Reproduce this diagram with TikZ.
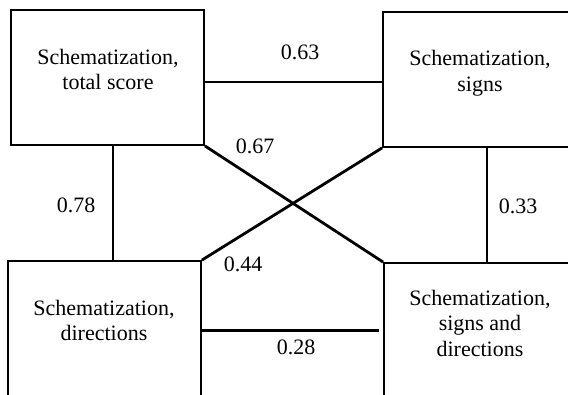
\documentclass[tikz,border=0pt]{standalone}
\usepackage{fontspec}
\setmainfont{Liberation Serif}
\newfontfamily\timesfont{Liberation Serif}
\newcommand{\lblfont}{\timesfont\fontsize{22}{25.5}\selectfont}
\tikzset{
  box/.style={draw=black,line width=1.8pt,rectangle,inner sep=0pt},
  conn/.style={line width=2.8pt,line cap=butt},
  txt/.style={align=center,font=\lblfont,inner sep=0pt},
  num/.style={font=\lblfont,inner sep=0pt}}
\begin{document}
\begin{tikzpicture}[x=1pt,y=-1pt]
\clip (0,0) rectangle (568,395);
\fill[white] (0,0) rectangle (568,395);
% boxes
\node[box,minimum width=193pt,minimum height=135pt] (tl) at (107.5,77.5) {};
\node[box,minimum width=194pt,minimum height=135pt] (tr) at (480,79.5) {};
\node[box,minimum width=193pt,minimum height=139pt] (bl) at (104.5,330.5) {};
\node[box,minimum width=194pt,minimum height=140pt] (br) at (481,333) {};
% texts
\node[txt] (ttl) at (108,69.5) {Schematization,\\total score};
\node[txt] (ttr) at (480,73) {Schematization,\\signs};
\node[txt] (tbl) at (104,320.5) {Schematization,\\directions};
\node[txt] (tbr) at (480,323) {Schematization,\\signs and\\directions};
% connectors
\draw[conn] ([yshift=-4.5pt]tl.east) -- ([yshift=-4.5pt]tl.east -| tr.west);
\draw[conn] ([xshift=5.5pt]tl.south) -- ([xshift=5.5pt]tl.south |- bl.north);
\draw[conn] ([xshift=7pt]tr.south) -- ([xshift=7pt]tr.south |- br.north);
\draw[conn] (tl.south east) -- (br.north west);
\draw[conn] (tr.south west) -- (bl.north east);
\draw[conn,shorten >=4pt] (bl.east) -- (bl.east -| br.west);
% labels
\node[num] (l63) at (300,52) {0.63};
\node[num] (l67) at (255,146) {0.67};
\node[num] (l78) at (76,205) {0.78};
\node[num] (l44) at (243,264) {0.44};
\node[num] (l33) at (518,206) {0.33};
\node[num] (l28) at (296,347) {0.28};
\end{tikzpicture}
\end{document}
